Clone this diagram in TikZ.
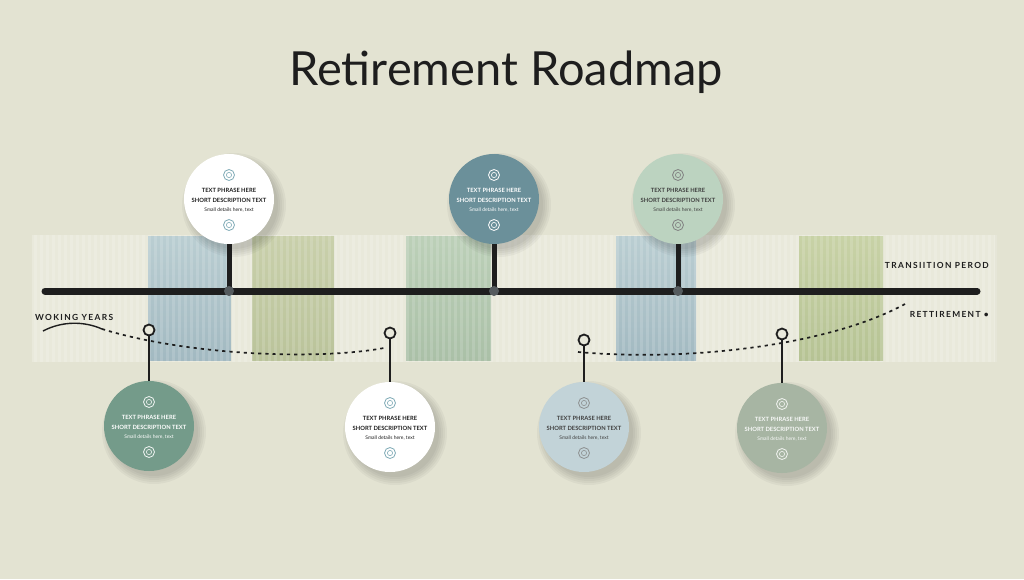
\documentclass[tikz,border=0pt]{standalone}
\usepackage{fontspec}
\setmainfont{Lato}
\definecolor{bg}{HTML}{E3E3D2}
\definecolor{band}{HTML}{E9E9DB}
\definecolor{rblueT}{HTML}{BACED2}
\definecolor{rblueB}{HTML}{A2B9C1}
\definecolor{roliveT}{HTML}{C9D0AB}
\definecolor{roliveB}{HTML}{BAC39A}
\definecolor{rgreenT}{HTML}{BCD0B8}
\definecolor{rgreenB}{HTML}{AAC0A7}
\definecolor{rlimeT}{HTML}{C8D2A6}
\definecolor{rlimeB}{HTML}{B6C394}
\definecolor{cteal}{HTML}{6B909A}
\definecolor{cmint}{HTML}{BCD3C0}
\definecolor{cgreen}{HTML}{749B8A}
\definecolor{csky}{HTML}{C2D3D8}
\definecolor{csage}{HTML}{A7B5A3}
\definecolor{icoblue}{HTML}{7FAAB6}
\definecolor{dotgrey}{HTML}{555B5E}
\definecolor{ink}{HTML}{1E1E1E}
\begin{document}
\begin{tikzpicture}[x=1pt,y=-1pt,
  bubble/.style={circle,minimum size=90pt,inner sep=0pt,align=center},
  bt/.style={font=\fontsize{5.8}{9}\selectfont\bfseries,align=center},
  icon/.style={circle,draw=#1,minimum size=11pt,inner sep=0pt,line width=0.8pt,
    path picture={\draw[#1,line width=0.6pt] (path picture bounding box.center) circle (2.6pt);}},
  topstem/.style={line width=5pt,ink},
  lowstem/.style={line width=2.4pt,ink},
  pinhead/.style={circle,draw=ink,fill=band,line width=1.8pt,minimum size=11pt,inner sep=0pt},
  jdot/.style={circle,fill=dotgrey,minimum size=10pt,inner sep=0pt},
  lab/.style={font=\fontsize{8.4}{10}\selectfont\bfseries\addfontfeatures{LetterSpace=16},text=ink,inner sep=0pt},
  trend/.style={ink,line width=1.7pt,dash pattern=on 3.2pt off 4pt}
]
\useasboundingbox (0,0) rectangle (1024,579);
\fill[bg] (0,0) rectangle (1024,579);
% striped band
\fill[band] (32,235) rectangle (995,362);
% coloured periods
\shade[top color=rblueT,bottom color=rblueB] (148,236) rectangle (231,360);
\shade[top color=roliveT,bottom color=roliveB] (252,236) rectangle (334,360);
\shade[top color=rgreenT,bottom color=rgreenB] (406,236) rectangle (491,360);
\shade[top color=rblueT,bottom color=rblueB] (616,236) rectangle (696,360);
\shade[top color=rlimeT,bottom color=rlimeB] (799,236) rectangle (883,360);
\foreach \x in {34,40,...,994} \fill[white,opacity=0.14] (\x,235) rectangle (\x+2.5,362);
% title
\node[font=\fontsize{47}{54}\selectfont,text=ink] (title) at (506,72) {Retirement Roadmap};
% timeline
\coordinate (tlL) at (45,291);
\coordinate (tlR) at (977,291);
\draw[ink,line width=7pt,line cap=round] (tlL) -- (tlR);
% labels
\node[lab,anchor=west] (work) at (35,317) {WOKING YEARS};
\node[lab,anchor=east] (trans) at (989,265) {TRANSIITION PEROD};
\node[lab,anchor=east] (retire) at (989,314) {RETTIREMENT •};
% trend curves
\coordinate (sw0) at (43,331);
\coordinate (sw1) at (102,329);
\coordinate (dashA) at (384,348);
\coordinate (dashB) at (578,352);
\coordinate (dashC) at (905,304);
\draw[ink,line width=1.4pt] (sw0) .. controls (62,321) and (84,321) .. (sw1);
\draw[trend] (sw1) .. controls (190,356) and (320,360) .. (dashA);
\draw[trend] (dashB) .. controls (690,362) and (830,345) .. (dashC);
% bubble centres
\coordinate (ct1) at (229,199);
\coordinate (ct2) at (494,199);
\coordinate (ct3) at (678,199);
\coordinate (cb1) at (149,426);
\coordinate (cb2) at (390,427);
\coordinate (cb3) at (584,427);
\coordinate (cb4) at (782,428);
% soft shadows
\foreach \c in {ct1,ct2,ct3,cb1,cb2,cb3,cb4}{
  \foreach \r in {52,50,...,44}
    \fill[black,opacity=0.035] ([shift={(5,6)}]\c) circle (\r);
}
% junctions
\coordinate (j1) at (229,291);
\coordinate (j2) at (494,291);
\coordinate (j3) at (678,291);
% top bubbles
\node[bubble,fill=white] (t1) at (ct1) {};
\node[bubble,fill=cteal] (t2) at (ct2) {};
\node[bubble,fill=cmint] (t3) at (ct3) {};
\draw[topstem] (t1.south) -- (j1);
\draw[topstem] (t2.south) -- (j2);
\draw[topstem] (t3.south) -- (j3);
\node[jdot] (d1) at (j1) {};
\node[jdot] (d2) at (j2) {};
\node[jdot] (d3) at (j3) {};
% bottom pins
\node[pinhead] (p1) at (149,330) {};
\node[pinhead] (p2) at (390,333) {};
\node[pinhead] (p3) at (584,340) {};
\node[pinhead] (p4) at (782,334) {};
% bottom bubbles
\node[bubble,fill=cgreen] (b1) at (cb1) {};
\node[bubble,fill=white] (b2) at (cb2) {};
\node[bubble,fill=csky] (b3) at (cb3) {};
\node[bubble,fill=csage] (b4) at (cb4) {};
\draw[lowstem] (p1) -- (b1.north);
\draw[lowstem] (p2) -- (b2.north);
\draw[lowstem] (p3) -- (b3.north);
\draw[lowstem] (p4) -- (b4.north);
% bubble contents
\foreach \b/\ic/\tc in {t1/icoblue/ink, t2/white/white, t3/gray/ink!85, b1/white!90!cgreen/white, b2/icoblue/ink, b3/gray!80!csky/ink!85, b4/white!85!csage/white!92!csage}{
  \node[icon=\ic,yshift=24pt] (\b-i1) at (\b) {};
  \node[icon=\ic,yshift=-26pt] (\b-i2) at (\b) {};
  \node[bt,text=\tc,yshift=9pt] (\b-l1) at (\b) {TEXT PHRASE HERE};
  \node[bt,text=\tc,yshift=-1pt] (\b-l2) at (\b) {SHORT DESCRIPTION TEXT};
  \node[bt,text=\tc,yshift=-11pt,font=\fontsize{5}{8}\selectfont] (\b-l3) at (\b) {Small details here, text};
}
\end{tikzpicture}
\end{document}
